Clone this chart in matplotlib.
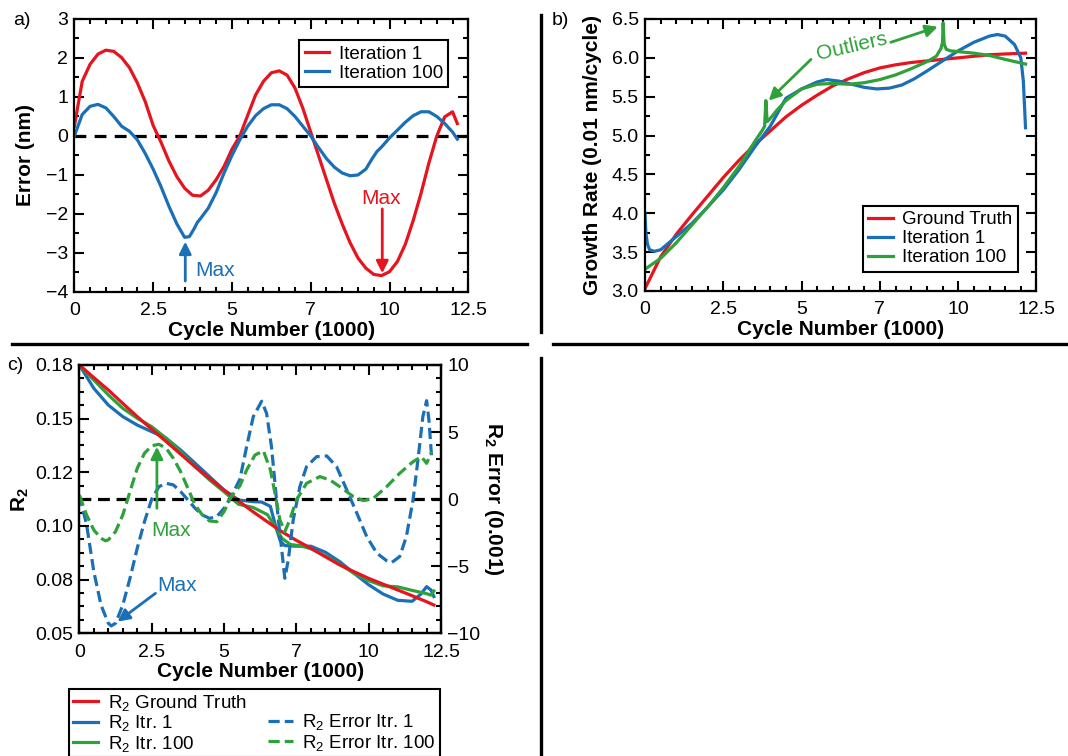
import numpy as np
import matplotlib
matplotlib.use('Agg')
import matplotlib.pyplot as plt
from matplotlib.ticker import MultipleLocator, FixedLocator, AutoMinorLocator
from matplotlib.lines import Line2D

# ---- veri ----
x_tick_vals = [0, 2.5, 5, 7.5, 10, 12.5]
x_tick_labels = ['0', '2.5', '5', '7', '10', '12.5']

# a) hata egrileri
a_x = [0, 0.25, 0.5, 0.75, 1.0, 1.25, 1.5, 1.75, 2.0, 2.25, 2.5, 2.75, 3.0, 3.25, 3.5,
       3.75, 4.0, 4.25, 4.5, 4.75, 5.0, 5.25, 5.5, 5.75, 6.0, 6.25, 6.5, 6.75, 7.0,
       7.25, 7.5, 7.75, 8.0, 8.25, 8.5, 8.75, 9.0, 9.25, 9.5, 9.75, 10.0, 10.25,
       10.5, 10.75, 11.0, 11.25, 11.5, 11.75, 12.0, 12.15]
a_itr1 = [0.25, 1.4, 1.84, 2.1, 2.2, 2.17, 2.01, 1.75, 1.36, 0.88, 0.27, -0.16, -0.64,
          -1.04, -1.34, -1.52, -1.54, -1.39, -1.12, -0.78, -0.34, 0.0, 0.53, 1.05, 1.4,
          1.62, 1.67, 1.56, 1.23, 0.71, 0.1, -0.51, -1.12, -1.73, -2.26, -2.74, -3.13,
          -3.39, -3.55, -3.58, -3.48, -3.22, -2.78, -2.17, -1.47, -0.69, 0.0, 0.49,
          0.62, 0.32]
a_x100 = [0, 0.25, 0.5, 0.75, 1.0, 1.25, 1.5, 1.75, 2.0, 2.25, 2.5, 2.75, 3.0, 3.25,
          3.5, 3.65, 3.8, 3.9, 4.0, 4.25, 4.5, 4.75, 5.0, 5.25, 5.5, 5.75, 6.0, 6.25,
          6.5, 6.75, 7.0, 7.25, 7.5, 7.75, 8.0, 8.25, 8.5, 8.75, 9.0, 9.25, 9.45, 9.6,
          9.75, 10.0, 10.25, 10.5, 10.75, 11.0, 11.25, 11.5, 11.75, 12.0, 12.15]
a_itr100 = [0.0, 0.55, 0.76, 0.81, 0.72, 0.5, 0.25, 0.12, -0.1, -0.45, -0.85, -1.3,
            -1.8, -2.25, -2.6, -2.58, -2.38, -2.22, -2.12, -1.85, -1.45, -0.95, -0.5,
            -0.1, 0.25, 0.52, 0.7, 0.8, 0.8, 0.7, 0.5, 0.25, 0.0, -0.3, -0.58, -0.8,
            -0.95, -1.02, -1.0, -0.85, -0.58, -0.4, -0.28, -0.05, 0.15, 0.35, 0.52,
            0.62, 0.62, 0.5, 0.32, 0.1, -0.08]

# b) buyume hizi
b_gt_x = [0, 0.5, 1.0, 1.5, 2.0, 2.5, 3.0, 3.5, 4.0, 4.5, 5.0, 5.5, 6.0, 6.5, 7.0, 7.5,
          8.0, 8.5, 9.0, 9.5, 10.0, 10.5, 11.0, 11.5, 12.15]
b_gt = [3.03, 3.44, 3.73, 3.98, 4.22, 4.46, 4.68, 4.88, 5.06, 5.24, 5.39, 5.52, 5.64,
        5.73, 5.81, 5.87, 5.91, 5.94, 5.96, 5.98, 6.0, 6.02, 6.04, 6.05, 6.06]
b_i1_x = [0, 0.03, 0.08, 0.15, 0.3, 0.5, 1.0, 1.5, 2.0, 2.5, 3.0, 3.5, 4.0, 4.5, 5.0,
          5.5, 5.8, 6.2, 6.6, 7.0, 7.4, 7.8, 8.2, 8.6, 9.0, 9.5, 10.0, 10.5, 11.0,
          11.25, 11.5, 11.8, 12.0, 12.08, 12.15]
b_itr1 = [4.0, 3.75, 3.6, 3.53, 3.51, 3.53, 3.7, 3.87, 4.08, 4.3, 4.56, 4.85, 5.12,
          5.48, 5.6, 5.69, 5.72, 5.7, 5.66, 5.62, 5.6, 5.61, 5.65, 5.73, 5.83, 5.96,
          6.09, 6.2, 6.28, 6.3, 6.28, 6.17, 6.0, 5.7, 5.1]
b_i100_x = [0, 0.5, 1.0, 1.5, 2.0, 2.5, 3.0, 3.5, 3.75, 3.82, 3.86, 3.9, 4.0, 4.2, 4.5,
            5.0, 5.5, 6.0, 6.5, 7.0, 7.5, 8.0, 8.5, 9.0, 9.3, 9.45, 9.5, 9.52, 9.55,
            9.62, 9.75, 10.0, 10.5, 11.0, 11.5, 12.15]
b_itr100 = [3.28, 3.42, 3.62, 3.85, 4.08, 4.33, 4.6, 4.92, 5.07, 5.12, 5.45, 5.18,
            5.22, 5.32, 5.45, 5.6, 5.66, 5.67, 5.66, 5.68, 5.72, 5.78, 5.86, 5.95,
            6.02, 6.12, 6.2, 6.45, 6.18, 6.11, 6.09, 6.08, 6.06, 6.03, 5.98, 5.92]

# c) R2 ve R2 hatasi
c_gt_x = [0, 0.5, 1, 1.5, 2, 2.5, 3, 3.5, 4, 4.5, 5, 5.5, 6, 6.5, 7, 7.5, 8, 8.5, 9,
          9.5, 10, 10.5, 11, 11.5, 12, 12.25]
c_gt = [0.18, 0.1739, 0.1679, 0.1614, 0.155, 0.1489, 0.1429, 0.1368, 0.1307, 0.125,
        0.1194, 0.1141, 0.1089, 0.104, 0.0992, 0.095, 0.0912, 0.0871, 0.0831, 0.0798,
        0.0766, 0.0738, 0.071, 0.0682, 0.0653, 0.0637]
c_i1_x = [0, 0.5, 1, 1.5, 2, 2.5, 3, 3.5, 4, 4.5, 5, 5.5, 6, 6.3, 6.6, 6.8, 6.95, 7.1,
          7.5, 8.0, 8.5, 9.0, 9.5, 10, 10.5, 11, 11.5, 11.8, 12.0, 12.15, 12.25]
c_itr1 = [0.18, 0.1687, 0.1606, 0.155, 0.1509, 0.1477, 0.1445, 0.1388, 0.1324, 0.1259,
          0.1194, 0.1146, 0.1138, 0.1136, 0.1115, 0.101, 0.0945, 0.0925, 0.0922,
          0.0922, 0.0893, 0.0847, 0.079, 0.0735, 0.069, 0.066, 0.0655, 0.069, 0.0726,
          0.071, 0.0678]
c_i100_x = [0, 0.5, 1, 1.5, 2, 2.5, 3, 3.5, 4, 4.5, 5, 5.5, 6, 6.5, 6.8, 7.0, 7.3, 7.6,
            8, 8.5, 9, 9.5, 10, 10.5, 11, 11.5, 12, 12.15, 12.25]
c_itr100 = [0.18, 0.1727, 0.1655, 0.159, 0.1542, 0.1501, 0.1445, 0.138, 0.1307, 0.1243,
            0.1186, 0.1125, 0.111, 0.1075, 0.101, 0.096, 0.093, 0.0925, 0.091, 0.0875,
            0.0835, 0.079, 0.0755, 0.073, 0.0725, 0.0708, 0.0692, 0.0685, 0.0705]
c_e1_x = [0, 0.25, 0.5, 0.75, 1.0, 1.1, 1.25, 1.5, 1.75, 2.0, 2.25, 2.5, 2.75, 3.0,
          3.25, 3.5, 3.75, 4.0, 4.25, 4.5, 4.75, 5.0, 5.25, 5.55, 5.78, 6.01, 6.3,
          6.47, 6.64, 6.76, 6.87, 6.99, 7.1, 7.22, 7.39, 7.62, 7.85, 8.2, 8.55, 8.89,
          9.24, 9.59, 9.93, 10.28, 10.62, 10.79, 11.07, 11.3, 11.53, 11.7, 11.87,
          12.0, 12.08, 12.18]
c_err1 = [0.3, -1.9, -5.4, -7.9, -9.25, -9.45, -9.25, -7.9, -5.9, -3.66, -1.68, 0.0,
          0.93, 1.18, 1.06, 0.56, -0.06, -0.68, -1.18, -1.43, -1.3, -0.68, 0.2, 1.5,
          3.91, 6.15, 7.3, 6.4, 3.9, 1.2, -1.4, -3.7, -5.9, -4.53, -1.55, 0.93, 2.42,
          3.17, 3.22, 2.42, 0.69, -1.05, -2.79, -4.03, -4.59, -4.73, -4.28, -2.79,
          -0.06, 2.92, 6.15, 7.34, 5.9, 2.92]
c_e100_x = [0, 0.25, 0.5, 0.75, 0.9, 1.0, 1.25, 1.5, 1.75, 2.0, 2.25, 2.5, 2.75, 3.0,
            3.25, 3.5, 3.75, 4.0, 4.25, 4.5, 4.75, 5.0, 5.25, 5.55, 5.78, 6.07, 6.36,
            6.6, 6.76, 6.93, 7.1, 7.27, 7.5, 7.85, 8.31, 8.66, 9.0, 9.47, 9.82, 10.16,
            10.62, 11.07, 11.53, 11.82, 12.0, 12.18]
c_err100 = [0.3, -1.18, -2.3, -2.92, -3.1, -3.04, -2.42, -1.18, 0.56, 2.3, 3.42, 3.98,
            4.09, 3.79, 3.04, 2.05, 0.81, -0.43, -1.18, -1.63, -1.68, -0.93, 0.2, 1.0,
            2.17, 3.29, 3.6, 2.2, 0.44, -1.55, -2.42, -1.55, -0.06, 1.18, 1.68, 1.43,
            0.93, 0.19, -0.11, 0.06, 0.93, 1.93, 2.79, 3.17, 2.67, 3.54]
r2_tick_labels = ['0.05', '0.08', '0.10', '0.12', '0.15', '0.18']

RED = '#e6141e'
BLUE = '#1b6fb6'
GREEN = '#2fa13a'
LW = 2.3
ETIKET = 15      # kalin eksen basliklari
NOT_BOYU = 15    # "Max", "Outliers"
LEJANT = 13.5

plt.rcParams['font.family'] = ['Liberation Sans', 'DejaVu Sans']
plt.rcParams['font.size'] = 14
plt.rcParams['mathtext.fontset'] = 'custom'
plt.rcParams['mathtext.rm'] = 'Liberation Sans'
plt.rcParams['mathtext.bf'] = 'Liberation Sans:bold'
plt.rcParams['mathtext.default'] = 'regular'
plt.rcParams['axes.linewidth'] = 1.6
for ax_name in ['xtick', 'ytick']:
    plt.rcParams[ax_name + '.direction'] = 'in'
    plt.rcParams[ax_name + '.major.size'] = 7
    plt.rcParams[ax_name + '.minor.size'] = 3.5
    plt.rcParams[ax_name + '.major.width'] = 1.5
    plt.rcParams[ax_name + '.minor.width'] = 1.5
plt.rcParams['xtick.major.pad'] = 7.5
plt.rcParams['ytick.major.pad'] = 4.5
plt.rcParams['xtick.top'] = True
plt.rcParams['ytick.right'] = True
plt.rcParams['xtick.minor.visible'] = True
plt.rcParams['ytick.minor.visible'] = True


def x_ekseni(ax):
    ax.set_xlim(0, 12.5)
    ax.xaxis.set_major_locator(FixedLocator(x_tick_vals))
    ax.set_xticklabels(x_tick_labels)
    ax.xaxis.set_minor_locator(MultipleLocator(0.5))
    ax.set_xlabel('Cycle Number (1000)', fontweight='bold', fontsize=ETIKET, labelpad=1)


def lejant_ayarla(leg):
    leg.get_frame().set_linewidth(1.5)
    leg.get_frame().set_edgecolor('black')


fig = plt.figure(figsize=(10.68, 7.56), dpi=100)

# ---- a) ----
ax_a = fig.add_axes([0.0696, 0.6138, 0.3689, 0.3611])
ax_a.axhline(0, color='black', lw=LW, dashes=(3.7, 2.6))
ax_a.plot(a_x, a_itr1, color=RED, lw=LW, label='Iteration 1')
ax_a.plot(a_x100, a_itr100, color=BLUE, lw=LW, label='Iteration 100')
x_ekseni(ax_a)
ax_a.set_ylim(-4, 3)
ax_a.yaxis.set_major_locator(MultipleLocator(1))
ax_a.yaxis.set_minor_locator(MultipleLocator(0.5))
ax_a.set_ylabel('Error (nm)', fontweight='bold', fontsize=ETIKET, labelpad=8)
ok = dict(arrowstyle='-|>', lw=2, mutation_scale=18, shrinkA=0, shrinkB=0)
ax_a.annotate('', xy=(3.52, -2.71), xytext=(3.52, -3.72), arrowprops=dict(ok, color=BLUE))
ax_a.text(3.84, -3.44, 'Max', color=BLUE, ha='left', va='center', fontsize=NOT_BOYU)
ax_a.annotate('', xy=(9.77, -3.52), xytext=(9.77, -1.87), arrowprops=dict(ok, color=RED))
ax_a.text(9.74, -1.61, 'Max', color=RED, ha='center', va='center', fontsize=NOT_BOYU)
leg = ax_a.legend(loc='upper right', bbox_to_anchor=(0.9495, 0.923), borderaxespad=0,
                  fancybox=False, framealpha=1, handlelength=1.3, handletextpad=0.5,
                  labelspacing=0.1, borderpad=0.3, fontsize=LEJANT)
lejant_ayarla(leg)

# ---- b) ----
ax_b = fig.add_axes([0.6039, 0.6151, 0.3666, 0.3598])
ax_b.plot(b_gt_x, b_gt, color=RED, lw=LW, label='Ground Truth')
ax_b.plot(b_i1_x, b_itr1, color=BLUE, lw=LW, label='Iteration 1')
ax_b.plot(b_i100_x, b_itr100, color=GREEN, lw=LW, label='Iteration 100')
x_ekseni(ax_b)
ax_b.set_ylim(3.0, 6.5)
ax_b.yaxis.set_major_locator(MultipleLocator(0.5))
ax_b.yaxis.set_minor_locator(MultipleLocator(0.25))
ax_b.yaxis.set_major_formatter('{x:.1f}')
ax_b.set_ylabel('Growth Rate (0.01 nm/cycle)', fontweight='bold', fontsize=ETIKET,
                labelpad=7)
ax_b.text(6.59, 6.14, 'Outliers', color=GREEN, ha='center', va='center', rotation=13,
          fontsize=NOT_BOYU)
ax_b.annotate('', xy=(9.35, 6.4), xytext=(7.85, 6.2), arrowprops=dict(ok, color=GREEN))
ax_b.annotate('', xy=(3.95, 5.45), xytext=(5.3, 5.98), arrowprops=dict(ok, color=GREEN))
leg = ax_b.legend(loc='lower right', bbox_to_anchor=(0.9527, 0.0699), borderaxespad=0,
                  fancybox=False, framealpha=1, handlelength=1.3, handletextpad=0.5,
                  labelspacing=0.1, borderpad=0.3, fontsize=LEJANT)
lejant_ayarla(leg)

# ---- c) ----
ax_c = fig.add_axes([0.0743, 0.1623, 0.3387, 0.3549])
h_i1, = ax_c.plot(c_i1_x, c_itr1, color=BLUE, lw=LW)
h_i100, = ax_c.plot(c_i100_x, c_itr100, color=GREEN, lw=LW)
h_gt, = ax_c.plot(c_gt_x, c_gt, color=RED, lw=LW)
x_ekseni(ax_c)
ax_c.set_ylim(0.05, 0.18)
ax_c.yaxis.set_major_locator(FixedLocator(np.linspace(0.05, 0.18, 6)))
ax_c.set_yticklabels(r2_tick_labels)
ax_c.yaxis.set_minor_locator(AutoMinorLocator(4))
ax_c.tick_params(axis='y', which='both', right=False)
ax_c.set_ylabel('R$_2$', fontweight='bold', fontsize=ETIKET, labelpad=3)

ax_c2 = ax_c.twinx()
ax_c2.axhline(0, color='black', lw=LW, dashes=(3.7, 2.1))
h_e1, = ax_c2.plot(c_e1_x, c_err1, color=BLUE, lw=LW, dashes=(3.5, 1.6))
h_e100, = ax_c2.plot(c_e100_x, c_err100, color=GREEN, lw=LW, dashes=(3.5, 1.6))
ax_c2.set_ylim(-10, 10)
ax_c2.yaxis.set_major_locator(MultipleLocator(5))
ax_c2.yaxis.set_minor_locator(MultipleLocator(1))
ax_c2.tick_params(axis='y', which='both', left=False, right=True, direction='in')
ax_c2.set_ylabel('R$_2$ Error (0.001)', fontweight='bold', fontsize=ETIKET, rotation=270,
                 va='bottom', labelpad=1)
ax_c2.annotate('', xy=(1.32, -9.13), xytext=(2.63, -7.02), arrowprops=dict(ok, color=BLUE))
ax_c2.text(3.36, -6.4, 'Max', color=BLUE, ha='center', va='center', fontsize=NOT_BOYU)
ax_c2.annotate('', xy=(2.68, 3.91), xytext=(2.68, -0.68), arrowprops=dict(ok, color=GREEN))
ax_c2.text(3.16, -2.3, 'Max', color=GREEN, ha='center', va='center', fontsize=NOT_BOYU)

bos = Line2D([], [], color='none')
leg = fig.legend([h_gt, h_i1, h_i100, bos, h_e1, h_e100],
                 ['R$_2$ Ground Truth', 'R$_2$ Itr. 1', 'R$_2$ Itr. 100', '',
                  'R$_2$ Error Itr. 1', 'R$_2$ Error Itr. 100'],
                 ncol=2, loc='upper left', bbox_to_anchor=(0.0649, 0.0886),
                 borderaxespad=0, fancybox=False, framealpha=1, handlelength=1.33,
                 handletextpad=0.53, labelspacing=0.02, borderpad=0.2, columnspacing=1.1,
                 fontsize=LEJANT)
lejant_ayarla(leg)

# ---- panel etiketleri ve ayirici cizgiler ----
fig.text(0.0127, 0.984, 'a)', va='top', ha='left')
fig.text(0.5169, 0.984, 'b)', va='top', ha='left')
fig.text(0.0064, 0.5278, 'c)', va='top', ha='left')

for (x0, x1, y0, y1) in [(0.5061, 0.5061, 0.9802, 0.5608), (0.5061, 0.5061, 0.5265, 0.0),
                         (0.0112, 0.4932, 0.5446, 0.5446), (0.5175, 0.9988, 0.5446, 0.5446)]:
    fig.add_artist(Line2D([x0, x1], [y0, y1], transform=fig.transFigure, color='black', lw=2.4))

fig.savefig('out.png', dpi=100)
